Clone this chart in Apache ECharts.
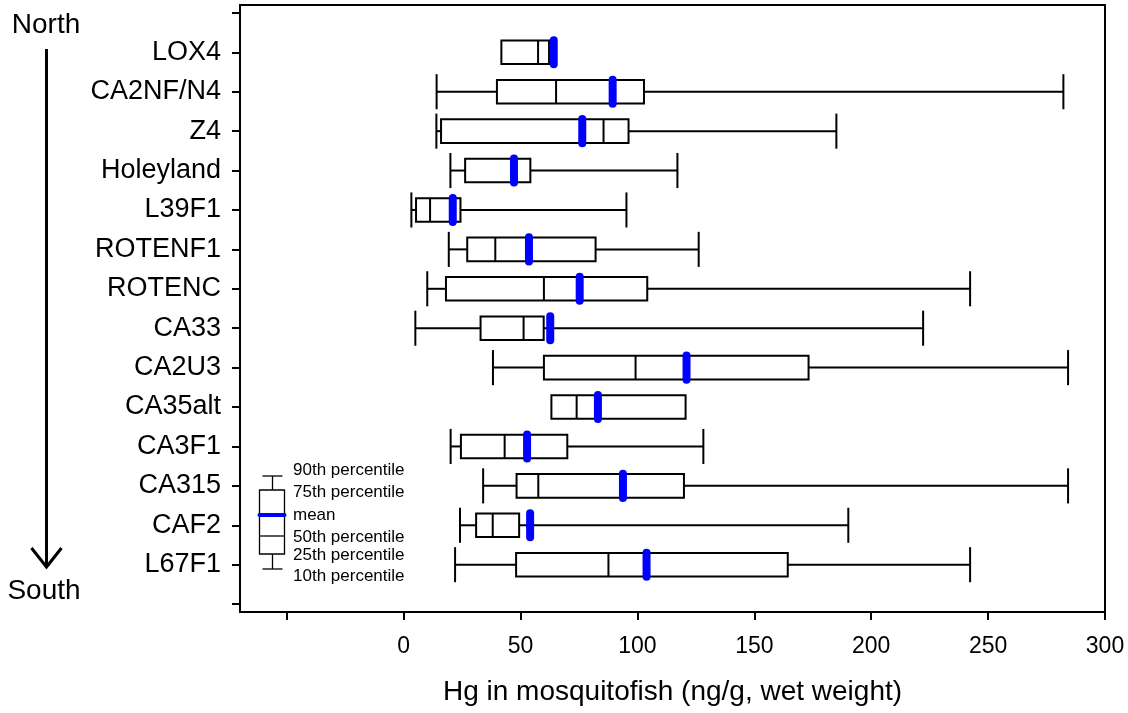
<!DOCTYPE html>
<html>
<head>
<meta charset="utf-8">
<script src="https://cdn.jsdelivr.net/npm/echarts@6/dist/echarts.min.js"></script>
<style>
  html, body { margin: 0; padding: 0; background: #fff; }
  #chart { width: 1128px; height: 713px; }
</style>
</head>
<body>
<div id="chart"></div>
<script>
// sites, north to south
const sites = ['LOX4', 'CA2NF/N4', 'Z4', 'Holeyland', 'L39F1', 'ROTENF1', 'ROTENC',
  'CA33', 'CA2U3', 'CA35alt', 'CA3F1', 'CA315', 'CAF2', 'L67F1'];
const p10 = [41.8, 14.1, 14.0, 20.0, 3.3, 19.3, 10.1, 5.0, 38.2, 63.2, 20.1, 34.0, 24.1, 22.0];
const p25 = [41.8, 39.9, 16.0, 26.3, 5.3, 27.2, 18.1, 32.9, 60.0, 63.2, 24.5, 48.3, 31.0, 48.1];
const p50 = [57.5, 65.2, 85.5, 47.2, 11.3, 39.2, 60.0, 51.3, 99.2, 74.0, 43.2, 57.6, 38.1, 87.6];
const p75 = [62.2, 102.8, 96.2, 54.2, 24.3, 82.1, 104.2, 59.9, 173.2, 120.6, 70.0, 119.9, 49.4, 164.3];
const p90 = [62.2, 282.2, 185.1, 117.1, 95.3, 126.2, 242.3, 222.2, 284.2, 120.6, 128.2, 284.2, 190.2, 242.3];
const means = [64.2, 89.4, 76.4, 47.2, 21.0, 53.6, 75.3, 62.7, 121.0, 83.1, 52.8, 93.8, 54.1, 103.9];

const xTicks = [-50, 0, 50, 100, 150, 200, 250, 300];
const xLabels = [0, 50, 100, 150, 200, 250, 300];
const yTicks = [0, 1, 2, 3, 4, 5, 6, 7, 8, 9, 10, 11, 12, 13, 14, 15];
const yLabels = [1, 2, 3, 4, 5, 6, 7, 8, 9, 10, 11, 12, 13, 14];
const keyLabels = ['90th percentile', '75th percentile', 'mean', '50th percentile', '25th percentile', '10th percentile'];

const FONT = 'Liberation Sans, Arial, sans-serif';
const BLUE = '#0000ff';

const rows = sites.map((s, i) => [i + 1, p10[i], p25[i], p50[i], p75[i], p90[i], means[i]]);

function renderBox(params, api) {
  const y = api.value(0);
  const unit = api.size([0, 1])[1];
  const boxH = unit * 0.3, capH = unit * 0.445, meanH = unit * 0.305;
  const pt = v => api.coord([v, y]);
  const a = pt(api.value(1)), b = pt(api.value(2)), c = pt(api.value(3));
  const d = pt(api.value(4)), e = pt(api.value(5)), m = pt(api.value(6));
  const cy = b[1];
  const ln = { stroke: '#000', lineWidth: 2, fill: null };
  const kids = [];
  if (a[0] < b[0] - 0.5) {
    kids.push({ type: 'line', shape: { x1: a[0], y1: cy, x2: b[0], y2: cy }, style: ln });
    kids.push({ type: 'line', shape: { x1: a[0], y1: cy - capH, x2: a[0], y2: cy + capH }, style: ln });
  }
  if (e[0] > d[0] + 0.5) {
    kids.push({ type: 'line', shape: { x1: d[0], y1: cy, x2: e[0], y2: cy }, style: ln });
    kids.push({ type: 'line', shape: { x1: e[0], y1: cy - capH, x2: e[0], y2: cy + capH }, style: ln });
  }
  kids.push({ type: 'rect', shape: { x: b[0], y: cy - boxH, width: d[0] - b[0], height: boxH * 2 }, style: ln });
  kids.push({ type: 'line', shape: { x1: c[0], y1: cy - boxH, x2: c[0], y2: cy + boxH }, style: ln });
  kids.push({ type: 'line', shape: { x1: m[0], y1: cy - meanH, x2: m[0], y2: cy + meanH },
    style: { stroke: BLUE, lineWidth: 8, lineCap: 'round' } });
  return { type: 'group', children: kids };
}

// key (legend) drawn in the lower left of the plot
const kx = 272.5, kl = 259.5, kr = 284.5;
const keyY = [470, 492, 515, 537, 555, 576];
const keyGraphics = [
  { type: 'line', shape: { x1: kl + 3, y1: 476, x2: kr - 2, y2: 476 }, style: { stroke: '#000', lineWidth: 1.3 } },
  { type: 'line', shape: { x1: kx, y1: 476, x2: kx, y2: 490 }, style: { stroke: '#000', lineWidth: 1.3 } },
  { type: 'rect', shape: { x: kl, y: 490, width: kr - kl, height: 64 }, style: { stroke: '#000', lineWidth: 1.3, fill: null } },
  { type: 'line', shape: { x1: kl, y1: 536, x2: kr, y2: 536 }, style: { stroke: '#000', lineWidth: 1.3 } },
  { type: 'line', shape: { x1: kx, y1: 554, x2: kx, y2: 569 }, style: { stroke: '#000', lineWidth: 1.3 } },
  { type: 'line', shape: { x1: kl + 3, y1: 569, x2: kr - 2, y2: 569 }, style: { stroke: '#000', lineWidth: 1.3 } },
  { type: 'line', shape: { x1: kl, y1: 515, x2: kr, y2: 515 }, style: { stroke: BLUE, lineWidth: 4, lineCap: 'round' } }
].concat(keyLabels.map((t, i) => ({
  type: 'text', x: 293, y: keyY[i],
  style: { text: t, font: '17px ' + FONT, fill: '#000', textVerticalAlign: 'middle' }
})));

// north-south arrow
const arrowGraphics = [
  { type: 'text', x: 46, y: 25, style: { text: 'North', font: '28px ' + FONT, fill: '#000', textAlign: 'center', textVerticalAlign: 'middle' } },
  { type: 'text', x: 44, y: 591, style: { text: 'South', font: '28px ' + FONT, fill: '#000', textAlign: 'center', textVerticalAlign: 'middle' } },
  { type: 'line', shape: { x1: 46.5, y1: 49, x2: 46.5, y2: 567 }, style: { stroke: '#000', lineWidth: 3 } },
  { type: 'polyline', shape: { points: [[31.5, 548], [46.5, 567], [61.5, 548]] }, style: { stroke: '#000', lineWidth: 3, fill: null } }
];

const chart = echarts.init(document.getElementById('chart'), null, { renderer: 'canvas' });
chart.setOption({
  animation: false,
  backgroundColor: '#fff',
  grid: {
    left: 240, top: 5, right: 23, bottom: 101, containLabel: false, outerBoundsMode: 'none',
    show: true, borderColor: '#000', borderWidth: 2, backgroundColor: 'transparent'
  },
  xAxis: {
    type: 'value', min: -70, max: 300, position: 'bottom',
    axisLine: { show: true, onZero: false, lineStyle: { color: '#000', width: 2 } },
    axisTick: { show: true, length: 8, lineStyle: { color: '#000', width: 2 }, customValues: xTicks },
    axisLabel: { customValues: xLabels, fontSize: 23, fontFamily: FONT, color: '#000', margin: 23 },
    splitLine: { show: false },
    name: 'Hg in mosquitofish (ng/g, wet weight)',
    nameLocation: 'middle', nameGap: 66,
    nameTextStyle: { fontSize: 28, fontFamily: FONT, color: '#000' }
  },
  yAxis: {
    type: 'value', inverse: true, min: -0.2, max: 15.2, position: 'left',
    axisLine: { show: true, onZero: false, lineStyle: { color: '#000', width: 2 } },
    axisTick: { show: true, length: 8, lineStyle: { color: '#000', width: 2 }, customValues: yTicks },
    axisLabel: {
      customValues: yLabels, fontSize: 27, fontFamily: FONT, color: '#000', margin: 19,
      formatter: v => sites[Math.round(v) - 1] || ''
    },
    splitLine: { show: false }
  },
  series: [{
    type: 'custom',
    renderItem: renderBox,
    encode: { x: [1, 2, 3, 4, 5, 6], y: 0 },
    data: rows
  }],
  graphic: keyGraphics.concat(arrowGraphics)
});
</script>
</body>
</html>
